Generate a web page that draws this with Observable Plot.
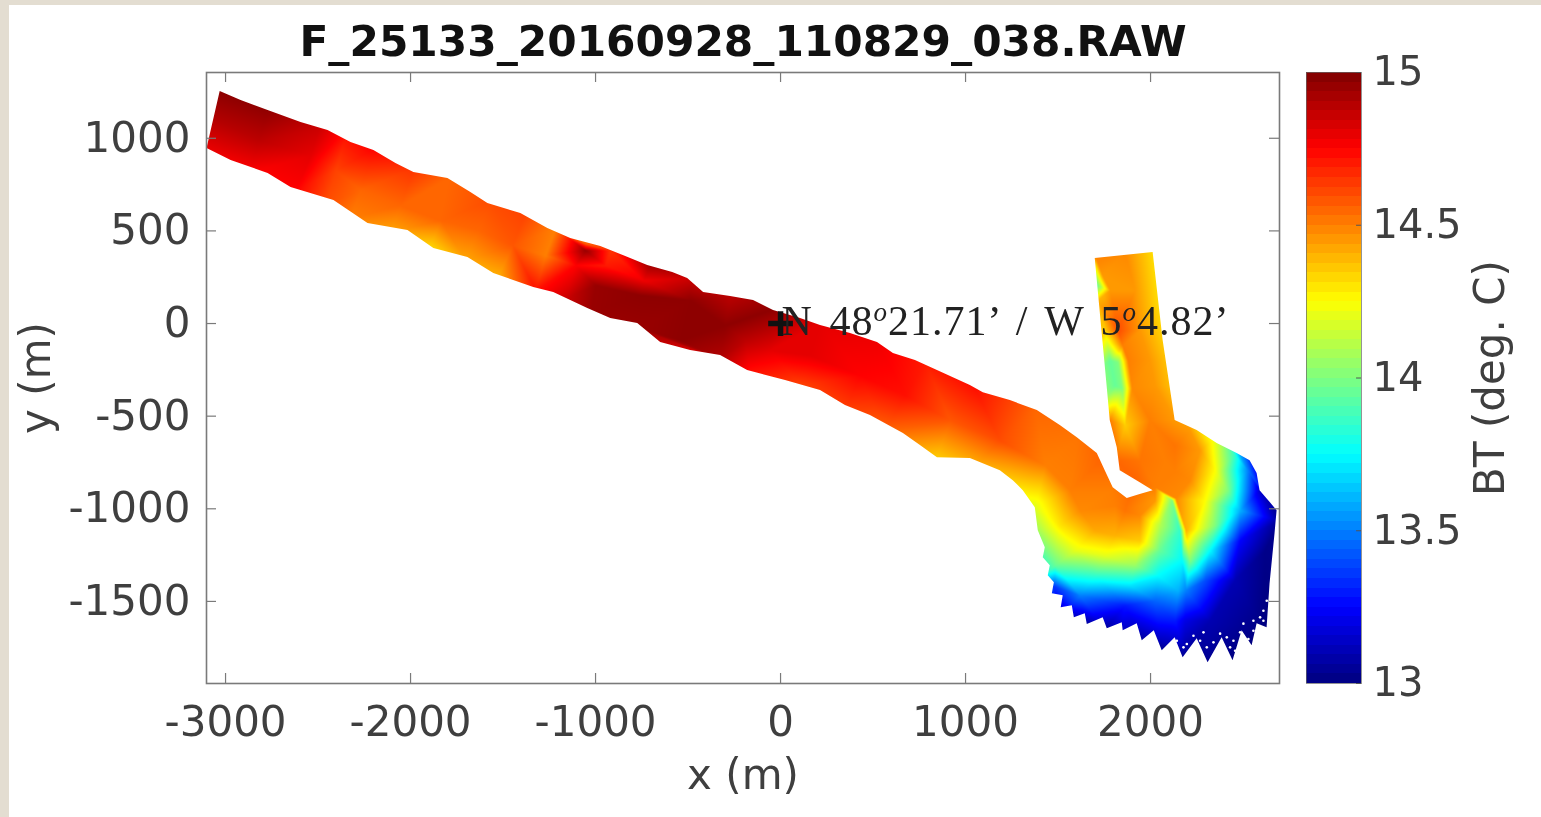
<!DOCTYPE html>
<html>
<head>
<meta charset="utf-8">
<script src="https://cdn.jsdelivr.net/npm/d3@7"></script>
<script src="https://cdn.jsdelivr.net/npm/@observablehq/plot@0.6"></script>
<style>
html,body{margin:0;padding:0;width:1541px;height:817px;overflow:hidden;background:#e3ddd1}
#sheet{position:absolute;left:9px;top:5px;width:1532px;height:812px;background:#fff}
#map,#bar{position:absolute;left:0;top:0}
#map svg,#bar svg{display:block;max-width:none;filter:blur(.55px)}
</style>
</head>
<body>
<div id="sheet"></div>
<div id="map"></div>
<div id="bar"></div>
<script>
const titleText = "F_25133_20160928_110829_038.RAW";
const xLabel = "x (m)";
const yLabel = "y (m)";
const barLabel = "BT (deg. C)";
const noteParts = ["N 48","o","21.71’ / W 5","o","4.82’"];
const xTicks = [-3000,-2000,-1000,0,1000,2000];
const yTicks = [-1500,-1000,-500,0,500,1000];
const barTicks = [13,13.5,14,14.5,15];
const xDomain = [-3103,2697];
const yDomain = [-1943,1355];
const jet = ["#00007f","#0000ff","#007fff","#00ffff","#7fff7f","#ffff00","#ff7f00","#ff0000","#7f0000"];

// [x (m), y (m), brightness temperature (deg C)]
const westStrip = [
[-3046,1269,14.98],[-3067,1107,14.9],[-3121,934,14.78],
[-2770,1161,14.97],[-2819,988,14.88],[-2862,815,14.75],
[-2495,1053,14.85],[-2538,907,14.8],[-2619,718,14.75],
[-2349,1015,14.72],[-2403,826,14.62],[-2457,648,14.6],
[-2198,945,14.75],[-2268,718,14.55],[-2322,567,14.5],
[-1982,837,14.65],[-2052,637,14.55],[-2106,491,14.42],
[-1782,794,14.55],[-1836,556,14.55],[-1901,394,14.3],
[-1566,664,14.6],[-1631,502,14.55],[-1701,340,14.42],
[-1377,599,14.62],[-1447,421,14.58],[-1528,248,14.4]
];
const warmCore = [
[-1215,513,14.5],[-1269,367,14.5],[-1323,178,14.72],
[-1053,432,14.55],[-1053,394,14.95],[-1107,313,14.75],[-1161,135,14.85],
[-918,394,14.65],[-945,313,14.7],[-999,205,14.95],[-1026,59,14.95],
[-702,324,14.95],[-740,232,14.78],[-756,151,14.97],[-756,-27,14.95],
[-486,243,14.85],[-486,124,14.97],[-540,-92,14.97],
[-270,151,14.88],[-297,-11,14.97],[-324,-189,14.9],
[-27,81,14.97],[-189,-92,14.88],[-54,-146,14.8],[-162,-265,14.72]
];
const eastStrip = [
[216,5,14.8],[162,-173,14.8],[108,-335,14.62],
[513,-92,14.78],[432,-281,14.75],[351,-470,14.62],
[783,-211,14.7],[675,-389,14.72],[567,-578,14.55],
[1053,-351,14.72],[918,-524,14.58],[837,-740,14.33],
[1377,-459,14.55],[1188,-632,14.6],[1053,-767,14.4],
[1609,-616,14.52],[1431,-767,14.5],[1258,-848,14.35],
[1728,-740,14.55],[1566,-902,14.5],[1377,-983,14.2]
];
const westFan = [
[1782,-902,14.5],[1620,-1010,14.48],[1512,-1091,14.3],[1377,-1118,14.05],
[1809,-983,14.5],[1701,-1118,14.42],[1593,-1226,14.2],[1485,-1307,13.95],[1404,-1377,13.7],[1431,-1450,13.45],[1480,-1420,13.35],
[1863,-1010,14.52],[1809,-1145,14.4],[1755,-1253,14.2],[1701,-1361,13.85],[1620,-1469,13.5],[1512,-1577,13.1],
[1650,-1620,13.05],[1750,-1650,13.05],[1950,-1710,13.05],
[1944,-1037,14.48],[1944,-1172,14.35],[1917,-1307,14.05],[1890,-1415,13.7],[1863,-1523,13.3],[1836,-1685,13.1],
[2025,-956,14.45],[2052,-1091,14.1],[2052,-1226,13.95],[2041,-1361,13.75],[2025,-1496,13.45],[2052,-1712,13.12],
[2117,-956,14.0],[2160,-1118,13.85],[2171,-1280,13.75],[2149,-1442,13.6],[2133,-1604,13.3]
];
const eastFan = [
[2138,-945,14.48],[2192,-1118,14.4],[2214,-1280,14.0],[2192,-1442,13.5],[2187,-1604,13.2],[2187,-1793,13.05],
[2133,-794,14.5],[2214,-848,14.48],[2295,-956,14.25],[2349,-1091,14.0],[2322,-1226,13.75],[2295,-1388,13.4],[2322,-1604,13.1],[2322,-1850,13.03],
[2268,-686,14.45],[2349,-794,14.25],[2419,-902,14.0],[2484,-1010,13.6],[2484,-1172,13.25],[2457,-1388,13.1],[2457,-1820,13.0],
[2214,-578,14.45],[2349,-621,14.2],[2457,-713,13.85],[2527,-794,13.5],[2592,-902,13.15],[2673,-1010,13.05],[2619,-1226,13.02],[2619,-1658,13.0],[2700,-1064,13.03]
];
const northBranch = [
[1701,367,14.5],[1863,383,14.48],[2025,405,14.3],
[1740,260,14.45],[1712,205,13.95],[1782,178,14.45],[1917,178,14.45],[2052,178,14.3],
[1712,120,14.4],[1745,150,14.4],
[1755,-38,14.35],[1825,-38,14.6],[1944,-38,14.45],[2079,-38,14.32],
[1766,-100,14.2],[1850,-120,14.5],
[1782,-200,13.95],[1825,-211,14.0],[1879,-200,14.5],[1998,-200,14.45],[2106,-200,14.35],
[1809,-335,13.95],[1847,-351,14.0],[1901,-351,14.48],[2025,-335,14.45],[2138,-335,14.35],
[1782,-524,14.5],[1863,-551,14.35],[1998,-524,14.5],[2133,-524,14.45],
[1809,-740,14.55],[1944,-740,14.52],[2079,-740,14.5],[2133,-659,14.52],
[1917,-837,14.55],[2025,-886,14.5]
];
const samples = [...westStrip,...warmCore,...eastStrip,...westFan,...eastFan,...northBranch];

// small gaps between soundings at the far end of the fan [x (m), y (m)]
const gaps = [
[2142,-1712],[2196,-1730],[2268,-1712],[2340,-1721],[2412,-1694],[2448,-1712],[2502,-1620],[2556,-1604],
[2610,-1550],[2628,-1496],[2178,-1748],[2304,-1748],[2430,-1748],[2556,-1658],[2610,-1604],[2376,-1674],
[2286,-1667],[2484,-1667],[2529,-1703],[2232,-1685],[2358,-1766],[2457,-1766],[2592,-1586]
];

// outline of the surveyed area [x (m), y (m)]
const swathNorth = [
[-3029,1253],[-2916,1204],[-2770,1150],[-2592,1085],[-2446,1042],[-2322,977],[-2198,934],[-2079,864],[-1982,815],[-1798,783],
[-1674,707],[-1582,648],[-1404,594],[-1258,513],[-1134,459],[-972,416],[-837,362],[-718,313],[-583,275],[-502,243],
[-416,167],[-270,146],[-146,124],[-38,70],[108,27],[216,-11],[378,-54],[524,-103],[610,-162],[729,-200],
[848,-254],[1026,-335],[1096,-373],[1242,-416],[1388,-470],[1512,-551],[1604,-616],[1712,-702],[1755,-794],[1798,-886],
[1874,-945],[1944,-923],[2014,-902],[1944,-859],[1836,-794],[1820,-670],[1782,-524],[1766,-346],[1712,232],[1701,351],
[2014,383],[2068,-92],[2133,-524]
];
const swathEast = [
[2252,-578],[2360,-648],[2468,-702],[2538,-740],[2576,-810],[2592,-902],[2684,-1010],[2673,-1134],[2646,-1404],[2630,-1642],
[2576,-1620],[2549,-1739],[2495,-1658],[2446,-1820],[2387,-1696],[2311,-1831],[2252,-1701],[2176,-1804],[2133,-1696],[2063,-1766],
[2020,-1658],[1955,-1712],[1928,-1620],[1852,-1658],[1847,-1615],[1766,-1647],[1744,-1588],[1658,-1625],[1647,-1566],[1588,-1588],
[1577,-1523],[1517,-1534],[1528,-1469],[1469,-1458],[1480,-1399],[1447,-1361],[1458,-1307],[1420,-1264],[1431,-1210],[1393,-1118],
[1377,-994],[1312,-902],[1258,-848],[1188,-794]
];
const swathSouth = [
[1026,-729],[848,-724],[756,-659],[664,-594],[486,-497],[351,-443],[216,-362],[27,-308],[-178,-254],[-324,-173],
[-486,-146],[-648,-103],[-772,0],[-918,27],[-1042,81],[-1226,167],[-1334,194],[-1550,270],[-1690,356],[-1874,405],
[-2014,502],[-2230,540],[-2414,664],[-2646,734],[-2770,810],[-2970,880],[-3100,945]
];
const swathOutline = [...swathNorth,...swathEast,...swathSouth];

const ink = "#3f3f3f", frameInk = "#7a7a7a", font = "DejaVu Sans";
const colorScale = {type:"linear", domain:d3.range(jet.length).map(i=>13+i*2/(jet.length-1)), range:jet, interpolate:"rgb", clamp:true};
const xSpan = xDomain[1]-xDomain[0], ySpan = yDomain[1]-yDomain[0];
const tx = 10/1073*xSpan, ty = 10/611*ySpan;

const map = Plot.plot({
  width:1541, height:817,
  marginLeft:206, marginRight:262, marginTop:72, marginBottom:134,
  style:{background:"transparent", fontFamily:font},
  x:{domain:xDomain, label:null},
  y:{domain:yDomain, label:null},
  color:colorScale,
  marks:[
    Plot.raster(samples,{x:d=>d[0],y:d=>d[1],fill:d=>d[2],interpolate:"barycentric",pixelSize:1,imageRendering:"auto"}),
    Plot.dot(gaps,{x:d=>d[0],y:d=>d[1],r:1.3,fill:"#fff"}),
    Plot.frame({stroke:frameInk,strokeWidth:1.6}),
    Plot.ruleX(xTicks,{y1:yDomain[0],y2:yDomain[0]+ty,stroke:frameInk,strokeWidth:1.2}),
    Plot.ruleX(xTicks,{y1:yDomain[1],y2:yDomain[1]-ty,stroke:frameInk,strokeWidth:1.2}),
    Plot.ruleY(yTicks,{x1:xDomain[0],x2:xDomain[0]+tx,stroke:frameInk,strokeWidth:1.2}),
    Plot.ruleY(yTicks,{x1:xDomain[1],x2:xDomain[1]-tx,stroke:frameInk,strokeWidth:1.2}),
    Plot.axisX(xTicks,{anchor:"bottom",tickSize:0,tickPadding:23,fontSize:42,fill:ink,tickFormat:d=>String(d),label:null}),
    Plot.axisY(yTicks,{anchor:"left",tickSize:0,tickPadding:16,fontSize:42,fill:ink,tickFormat:d=>String(d),label:null}),
    Plot.dot([[0,0]],{x:d=>d[0],y:d=>d[1],symbol:"plus",r:8,stroke:"#111",strokeWidth:5.5}),
    Plot.text([noteParts.join("")],{x:0,y:0,dx:1,dy:-2,textAnchor:"start",fontFamily:"Liberation Serif",fontSize:42,fill:"#222",className:"note"}),
    Plot.text([titleText],{frameAnchor:"top",dy:-47,fontFamily:font,fontWeight:"bold",fontSize:42.3,fill:"#111"}),
    Plot.text([xLabel],{frameAnchor:"bottom",dy:105,fontSize:42,fill:ink}),
    Plot.text([yLabel],{frameAnchor:"left",dx:-170,rotate:-90,textAnchor:"middle",fontSize:42,fill:ink})
  ]
});
document.getElementById("map").append(map);

// clip the interpolated raster to the surveyed outline, through the chart's own scales
const sx = map.scale("x"), sy = map.scale("y");
const ns = "http://www.w3.org/2000/svg";
const img = map.querySelector("image");
const ctm = img.getCTM();
const cp = document.createElementNS(ns,"clipPath");
cp.setAttribute("id","swath");
const poly = document.createElementNS(ns,"polygon");
poly.setAttribute("points",swathOutline.map(p=>(sx.apply(p[0])-ctm.e)+","+(sy.apply(p[1])-ctm.f)).join(" "));
cp.append(poly);
map.append(cp);
img.setAttribute("clip-path","url(#swath)");

// the position note has superscript degree marks, set as real text
const noteText = [...map.querySelectorAll("text")].find(t=>t.textContent===noteParts.join(""));
noteText.textContent = "";
noteText.setAttribute("word-spacing","5");
noteText.setAttribute("letter-spacing","1");
noteParts.forEach((part,i)=>{
  const span = document.createElementNS(ns,"tspan");
  span.textContent = part;
  if (i%2===1) { span.setAttribute("dy","-14"); span.setAttribute("font-size","27"); span.setAttribute("font-style","italic"); }
  else if (i>0) { span.setAttribute("dy","14"); }
  noteText.append(span);
});

const levels = d3.range(64).map(i=>13+i*2/64);
const bar = Plot.plot({
  width:1541, height:817,
  marginLeft:1306, marginRight:180, marginTop:72, marginBottom:134,
  style:{background:"transparent", fontFamily:font},
  x:{domain:[0,1], axis:null},
  y:{domain:[13,15], label:null},
  color:colorScale,
  marks:[
    Plot.rect(levels,{x1:0,x2:1,y1:d=>d,y2:d=>d+2/64,fill:d=>d+1/64,shapeRendering:"crispEdges",inset:0}),
    Plot.frame({stroke:"#666",strokeWidth:1,strokeOpacity:.7}),
    Plot.ruleY(barTicks,{x1:0.91,x2:1,stroke:"#555",strokeWidth:1}),
    Plot.axisY(barTicks,{anchor:"right",tickSize:0,tickPadding:11,fontSize:40,fill:ink,tickFormat:d=>String(d),label:null}),
    Plot.text([barLabel],{frameAnchor:"right",dx:129,rotate:-90,textAnchor:"middle",fontSize:42,fill:ink})
  ]
});
document.getElementById("bar").append(bar);
</script>
</body>
</html>
